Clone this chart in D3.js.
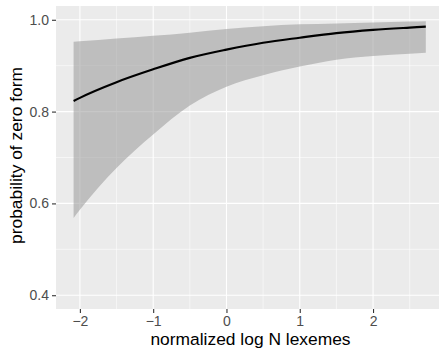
<!DOCTYPE html>
<html>
<head>
<meta charset="utf-8">
<script src="https://cdn.jsdelivr.net/npm/d3@7"></script>
<style>
  html, body { margin: 0; padding: 0; background: #ffffff; }
  svg { display: block; }
</style>
</head>
<body>
<svg id="chart" width="439" height="351"></svg>
<script>
// ---- data ----
const xValues   = [-2.086, -2, -1.5, -1, -0.5, 0, 0.5, 1, 1.5, 2, 2.5, 2.72];
const fitValues = [0.823, 0.830, 0.864, 0.892, 0.917, 0.935, 0.950, 0.961, 0.971, 0.978, 0.983, 0.985];
const lowerValues = [0.568, 0.586, 0.677, 0.750, 0.813, 0.854, 0.879, 0.898, 0.913, 0.921, 0.926, 0.928];
const upperValues = [0.952, 0.953, 0.959, 0.965, 0.972, 0.980, 0.986, 0.990, 0.992, 0.994, 0.996, 0.997];
const xTicks = [-2, -1, 0, 1, 2];
const xMinor = [-1.5, -0.5, 0.5, 1.5, 2.5];
const yTicks = [0.4, 0.6, 0.8, 1.0];
const yMinor = [0.5, 0.7, 0.9];
const xTitle = "normalized log N lexemes";
const yTitle = "probability of zero form";

const rows = xValues.map((x, i) => ({ x, fit: fitValues[i], lo: lowerValues[i], hi: upperValues[i] }));

const svg = d3.select("#chart");
const panel = { left: 56, right: 443.4, top: 6, bottom: 309 };

const x = d3.scaleLinear().domain([-2.326, 2.96]).range([panel.left, panel.right]);
const y = d3.scaleLinear().domain([0.37, 1.03]).range([panel.bottom, panel.top]);

const font = "'Liberation Sans', Arial, Helvetica, sans-serif";

// panel background
svg.append("rect")
  .attr("x", panel.left).attr("y", panel.top)
  .attr("width", panel.right - panel.left).attr("height", panel.bottom - panel.top)
  .attr("fill", "#EBEBEB");

const grid = svg.append("g");
// minor grid
grid.selectAll(".xminor").data(xMinor).enter().append("line")
  .attr("x1", d => x(d)).attr("x2", d => x(d))
  .attr("y1", panel.top).attr("y2", panel.bottom)
  .attr("stroke", "#ffffff").attr("stroke-width", 0.55);
grid.selectAll(".yminor").data(yMinor).enter().append("line")
  .attr("y1", d => y(d)).attr("y2", d => y(d))
  .attr("x1", panel.left).attr("x2", panel.right)
  .attr("stroke", "#ffffff").attr("stroke-width", 0.55);
// major grid
grid.selectAll(".xmajor").data(xTicks).enter().append("line")
  .attr("x1", d => x(d)).attr("x2", d => x(d))
  .attr("y1", panel.top).attr("y2", panel.bottom)
  .attr("stroke", "#ffffff").attr("stroke-width", 1.1);
grid.selectAll(".ymajor").data(yTicks).enter().append("line")
  .attr("y1", d => y(d)).attr("y2", d => y(d))
  .attr("x1", panel.left).attr("x2", panel.right)
  .attr("stroke", "#ffffff").attr("stroke-width", 1.1);

// ribbon
const area = d3.area()
  .x(d => x(d.x)).y0(d => y(d.lo)).y1(d => y(d.hi))
  .curve(d3.curveMonotoneX);
svg.append("path").datum(rows)
  .attr("d", area)
  .attr("fill", "#999999").attr("fill-opacity", 0.55);

// fitted line
const line = d3.line().x(d => x(d.x)).y(d => y(d.fit)).curve(d3.curveMonotoneX);
svg.append("path").datum(rows)
  .attr("d", line)
  .attr("fill", "none").attr("stroke", "#000000").attr("stroke-width", 2.1);

// axes
const xAxis = d3.axisBottom(x).tickValues(xTicks).tickSize(4).tickPadding(3)
  .tickFormat(d => d < 0 ? "\u2212" + Math.abs(d) : String(d));
const gx = svg.append("g").attr("transform", `translate(0,${panel.bottom})`).call(xAxis);
gx.select(".domain").remove();
gx.selectAll(".tick line").attr("stroke", "#333333").attr("stroke-width", 1.1);
gx.selectAll(".tick text").attr("fill", "#4D4D4D").style("font-family", font).style("font-size", "14px");

const yAxis = d3.axisLeft(y).tickValues(yTicks).tickSize(4).tickPadding(3)
  .tickFormat(d3.format(".1f"));
const gy = svg.append("g").attr("transform", `translate(${panel.left},0)`).call(yAxis);
gy.select(".domain").remove();
gy.selectAll(".tick line").attr("stroke", "#333333").attr("stroke-width", 1.1);
gy.selectAll(".tick text").attr("fill", "#4D4D4D").style("font-family", font).style("font-size", "14px");

// titles
svg.append("text")
  .attr("x", (panel.left + 439) / 2 + 3).attr("y", 345)
  .attr("text-anchor", "middle")
  .style("font-family", font).style("font-size", "17.4px").attr("fill", "#000")
  .text(xTitle);
svg.append("text")
  .attr("transform", `translate(22,${(panel.top + panel.bottom) / 2 - 2}) rotate(-90)`)
  .attr("text-anchor", "middle")
  .style("font-family", font).style("font-size", "17.4px").attr("fill", "#000")
  .text(yTitle);
</script>
</body>
</html>
